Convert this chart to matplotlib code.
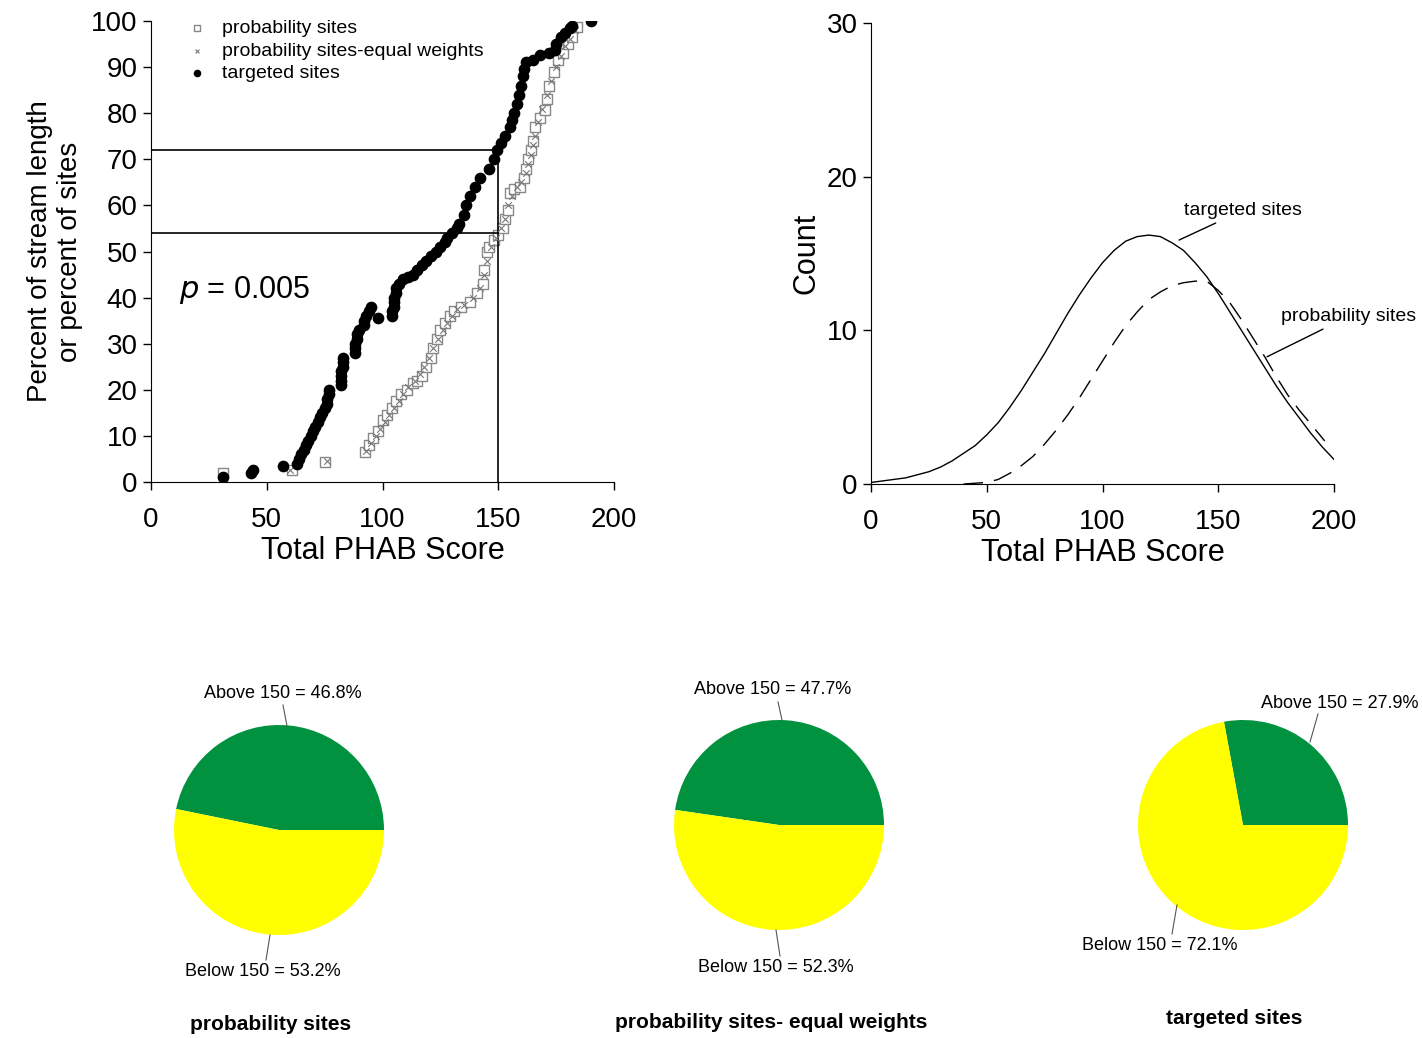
import numpy as np
import matplotlib.pyplot as plt

plt.rcParams['font.family'] = ['Liberation Sans', 'DejaVu Sans']

# cumulative distribution points (Total PHAB score, percent)
tgt_x = [31, 43, 44, 57, 63, 64, 65, 66, 67, 68, 69, 70, 71, 72, 73, 74, 75, 76, 76, 77, 77,
         82, 82, 82, 82, 83, 83, 83, 88, 88, 88, 89, 89, 90, 92, 92, 93, 94, 95, 98,
         104, 104, 105, 105, 105, 106, 106, 107, 109, 111, 113, 115, 117, 119, 121, 123,
         125, 127, 128, 130, 132, 133, 135, 136, 138, 140, 142, 146, 148, 149.5, 151, 153,
         155, 156, 157, 158, 159, 160, 160.5, 161, 162, 165, 168, 172, 174.5, 175, 177,
         179, 181, 182, 190]
tgt_y = [1, 2, 2.5, 3.5, 4, 5, 6, 7, 8, 9, 10, 11, 12, 13, 14, 15, 16, 17, 18, 19, 20,
         21, 22, 23, 24, 25, 26, 27, 28, 29, 30, 31, 32, 33, 34, 35, 36, 37, 38, 35.5,
         36, 37, 38, 39, 40, 41, 42, 43, 44, 44.5, 45, 46, 47, 48, 49, 50,
         51, 52, 53, 54, 55, 56, 58, 60, 62, 64, 66, 68, 70, 72, 73.5, 75,
         77, 78.5, 80, 82, 84, 86, 88, 89.5, 91, 91.5, 92.6, 93, 93.7, 95, 96.5,
         97.5, 98.5, 99, 100]
prob_x = [31, 61, 75, 92.5, 94, 96, 98, 100, 102, 104, 106, 108, 110.5, 113, 115, 117, 119,
          121, 122, 123.5, 125, 127, 129, 131, 134, 138, 141, 143.5, 144, 145, 146, 148,
          150, 152, 153, 154, 155, 157, 159.5, 161, 162, 163, 164, 165, 166, 168, 170,
          171, 172, 174, 176, 178, 180, 182, 184]
prob_y = [2, 2.6, 4.3, 6.5, 8, 9.5, 11, 13.4, 14.5, 16, 17.5, 19, 20, 21.5, 22, 23, 25,
          27, 29, 31, 33, 34.5, 36, 37, 38, 39, 41, 43, 46, 50, 51, 52.5,
          53.5, 55, 57, 59, 62.7, 63.5, 64, 66, 68, 70, 72, 74, 77, 79, 80.7,
          83, 86, 89, 91.5, 93, 95, 96.5, 98.7]
eqw_x = [60, 76, 93, 95, 97, 99, 101, 103, 105, 107, 109, 111, 114, 116, 118, 120,
         122, 124, 126, 128, 130, 132, 135, 139, 142, 144, 145, 147, 149, 151, 153,
         154, 156, 158, 160, 162, 163, 164, 165, 166, 167, 169, 171, 173, 175, 177,
         179, 181, 183]
eqw_y = [2.6, 4.5, 6.8, 8.5, 10, 11.5, 13, 14.5, 16, 17.5, 19, 20.5, 22, 23.5, 25, 27,
         29, 31, 33, 34.5, 36, 37.5, 38.5, 40, 42, 45, 48, 51, 53, 55, 57,
         60, 62, 64, 65, 67, 69, 71, 73, 75, 78, 81, 84, 87, 90, 92.5,
         94.5, 96, 98]

crv_x = [0, 5, 10, 15, 20, 25, 30, 35, 40, 45, 50, 55, 60, 65, 70, 75, 80, 85, 90, 95,
         100, 105, 110, 115, 120, 125, 130, 135, 140, 145, 150, 155, 160, 165, 170, 175,
         180, 185, 190, 195, 200]
tgt_cnt = [0.1, 0.2, 0.3, 0.4, 0.6, 0.8, 1.1, 1.5, 2.0, 2.5, 3.2, 4.0, 5.0, 6.1, 7.3, 8.5,
           9.8, 11.1, 12.3, 13.4, 14.4, 15.2, 15.8, 16.1, 16.2, 16.1, 15.7, 15.2, 14.4,
           13.5, 12.4, 11.2, 10.0, 8.8, 7.6, 6.4, 5.3, 4.3, 3.3, 2.4, 1.6]
prb_x = [40, 45, 50, 55, 60, 65, 70, 75, 80, 85, 90, 95, 100, 105, 110, 115, 120, 125, 130,
         135, 140, 145, 150, 155, 160, 165, 170, 175, 180, 185, 190, 196]
prb_cnt = [0.0, 0.05, 0.1, 0.3, 0.7, 1.2, 1.8, 2.6, 3.5, 4.5, 5.6, 6.8, 8.0, 9.2, 10.3,
           11.2, 12.0, 12.5, 12.9, 13.1, 13.2, 13.2, 12.6, 11.8, 10.7, 9.5, 8.3, 7.0,
           5.8, 4.8, 3.9, 2.8]

pies = [
    ('probability sites', 46.8, 53.2),
    ('probability sites- equal weights', 47.7, 52.3),
    ('targeted sites', 27.9, 72.1),
]

W, H = 1422, 1038
fig = plt.figure(figsize=(W / 100, H / 100), dpi=100)


def box(l, t, r, b):
    return [l / W, 1 - b / H, (r - l) / W, (b - t) / H]


def style(ax):
    for s in ['top', 'right']:
        ax.spines[s].set_visible(False)
    ax.tick_params(labelsize=20, length=6, width=1)
    ax.tick_params(axis='x', pad=12)


# top-left: cumulative distributions
ax1 = fig.add_axes(box(151, 21, 614, 482))
style(ax1)
ax1.scatter(prob_x, prob_y, marker='s', s=55, facecolor='white', edgecolor='#888888',
            linewidth=1, label='probability sites', zorder=2)
ax1.scatter(eqw_x, eqw_y, marker='x', s=22, color='#777777', linewidth=0.8,
            label='probability sites-equal weights', zorder=3)
ax1.scatter(tgt_x, tgt_y, marker='o', s=55, color='black', label='targeted sites', zorder=4)
ax1.plot([0, 150], [72, 72], color='black', lw=1.2)
ax1.plot([0, 150], [54, 54], color='black', lw=1.2)
ax1.plot([150, 150], [0, 72], color='black', lw=1.2)
ax1.set_xlim(0, 200)
ax1.set_ylim(0, 100)
ax1.set_xticks(range(0, 201, 50))
ax1.set_yticks(range(0, 101, 10))
ax1.set_xlabel('Total PHAB Score', fontsize=22, labelpad=2)
ax1.set_ylabel('Percent of stream length\nor percent of sites', fontsize=20, labelpad=6)
ax1.text(12, 40, r'$p$ = 0.005', fontsize=22)
ax1.legend(loc='upper left', frameon=False, fontsize=14, handletextpad=0.3,
           labelspacing=0.25, borderaxespad=0.0, bbox_to_anchor=(0.04, 1.02),
           markerscale=0.6)

# top-right: count curves
ax2 = fig.add_axes(box(871, 23, 1334, 484))
style(ax2)
ax2.plot(crv_x, tgt_cnt, color='black', lw=1)
ax2.plot(prb_x, prb_cnt, color='black', lw=1, dashes=(14, 8))
ax2.set_xlim(0, 200)
ax2.set_ylim(0, 30)
ax2.set_xticks(range(0, 201, 50))
ax2.set_yticks([0, 10, 20, 30])
ax2.set_xlabel('Total PHAB Score', fontsize=22, labelpad=2)
ax2.set_ylabel('Count', fontsize=22)
ax2.annotate('targeted sites', xy=(132, 15.8), xytext=(135, 17.5), fontsize=14,
             arrowprops=dict(arrowstyle='-', lw=1))
ax2.annotate('probability sites', xy=(170, 8.2), xytext=(177, 10.6), fontsize=14,
             arrowprops=dict(arrowstyle='-', lw=1), annotation_clip=False)

# bottom: pies
centers = [(279, 830), (779, 825), (1243, 825)]
up_lbl = [(283, 694), (773, 690), (1340, 703)]
dn_lbl = [(263, 972), (776, 968), (1160, 946)]
tit_y = [1024, 1022, 1018]
for i, (name, above, below) in enumerate(pies):
    cx, cy = centers[i]
    ax = fig.add_axes(box(cx - 105, cy - 105, cx + 105, cy + 105))
    ax.pie([above, below], colors=['#00923f', '#ffff00'], startangle=0,
           counterclock=True, radius=1)
    ax.set_xlim(-1, 1)
    ax.set_ylim(-1, 1)
    ax.set_aspect('equal')
    fig.text(up_lbl[i][0] / W, 1 - up_lbl[i][1] / H, f'Above 150 = {above}%',
             ha='center', va='center', fontsize=13)
    fig.text(dn_lbl[i][0] / W, 1 - dn_lbl[i][1] / H, f'Below 150 = {below}%',
             ha='center', va='center', fontsize=13)
    fig.text((cx - 8 if i < 2 else cx - 9) / W, 1 - tit_y[i] / H, name, ha='center',
             va='center', fontsize=15, fontweight='bold')

# leader lines for pie labels
lines = [((283, 705), (287, 726)), ((778, 702), (782, 720)), ((1318, 714), (1310, 742)),
         ((266, 960), (270, 935)), ((780, 956), (776, 930)), ((1172, 934), (1177, 905))]
for (x0, y0), (x1, y1) in lines:
    fig.add_artist(plt.Line2D([x0 / W, x1 / W], [1 - y0 / H, 1 - y1 / H],
                              color='#555555', lw=0.8))

fig.savefig('out.png', dpi=100)
